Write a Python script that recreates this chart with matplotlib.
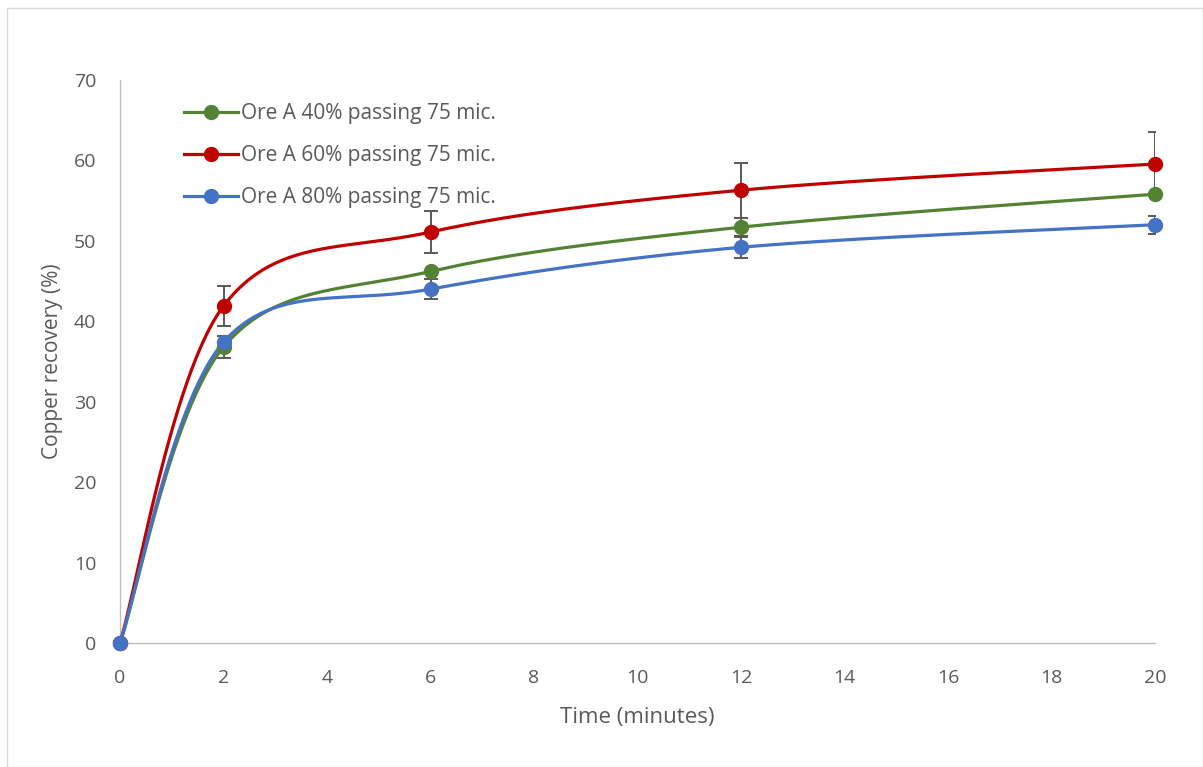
import numpy as np
import matplotlib
matplotlib.use("Agg")
import matplotlib.pyplot as plt
from matplotlib.patches import Rectangle

time = [0, 2, 6, 12, 20]
ore40 = [0, 36.8, 46.2, 51.7, 55.8]
ore60 = [0, 41.9, 51.1, 56.3, 59.55]
ore80 = [0, 37.4, 44.0, 49.2, 52.0]
err40 = [0, 1.4, 0.0, 1.1, 0.0]
err60 = [0, 2.5, 2.6, 3.4, 4.0]
err80 = [0, 0.0, 1.2, 1.3, 1.1]
labels = ["Ore A 40% passing 75 mic.", "Ore A 60% passing 75 mic.", "Ore A 80% passing 75 mic."]
colors = ["#548235", "#C00000", "#4472C4"]
xticks = list(range(0, 21, 2))
yticks = list(range(0, 71, 10))

plt.rcParams['font.family'] = ['Open Sans', 'DejaVu Sans']

W, H = 1203, 767
fig = plt.figure(figsize=(W / 100, H / 100), dpi=100)
L, R, T, B = 120, 1155, 80, 643
ax = fig.add_axes([L / W, 1 - B / H, (R - L) / W, (B - T) / H])
ax.set_xlim(0, 20)
ax.set_ylim(0, 70)

sx = (R - L) / 20.0
sy = (B - T) / 70.0


def smooth(xs, ys, n=60):
    # Excel-like smoothed line: cubic Bezier with Catmull-Rom control points (screen space)
    P = np.column_stack([np.array(xs) * sx, np.array(ys) * sy])
    out = []
    for i in range(len(P) - 1):
        p0 = P[i - 1] if i > 0 else P[i]
        p1 = P[i]
        p2 = P[i + 1]
        p3 = P[i + 2] if i + 2 < len(P) else P[i + 1]
        c1 = p1 + (p2 - p0) / 6.0
        c2 = p2 - (p3 - p1) / 6.0
        t = np.linspace(0, 1, n)[:, None]
        seg = ((1 - t) ** 3) * p1 + 3 * ((1 - t) ** 2) * t * c1 + 3 * (1 - t) * t ** 2 * c2 + t ** 3 * p2
        out.append(seg if i == 0 else seg[1:])
    out = np.vstack(out)
    return out[:, 0] / sx, out[:, 1] / sy

series = [(ore40, err40), (ore60, err60), (ore80, err80)]
for (ys, es), c, lab in zip(series, colors, labels):
    ax.errorbar(time, ys, yerr=es, fmt='none', ecolor='#595959', elinewidth=1.4,
                capsize=5, capthick=1.4, zorder=2)
for (ys, es), c, lab in zip(series, colors, labels):
    xs_s, ys_s = smooth(time, ys)
    ax.plot(xs_s, ys_s, color=c, lw=2.3, zorder=3, solid_capstyle='round', clip_on=False)
    ax.plot(time, ys, 'o', color=c, ms=10, zorder=4, clip_on=False)
    ax.plot([], [], '-o', color=c, lw=2.3, ms=10, label=lab)

ax.set_xticks(xticks)
ax.set_yticks(yticks)
ax.tick_params(length=0, labelsize=14, colors='#595959')
ax.tick_params(axis='x', pad=19)
ax.tick_params(axis='y', pad=17)
for s in ['top', 'right']:
    ax.spines[s].set_visible(False)
for s in ['left', 'bottom']:
    ax.spines[s].set_color('#BFBFBF')
    ax.spines[s].set_linewidth(1)

ax.set_xlabel("Time (minutes)", fontsize=16, color='#595959', labelpad=14)
ax.set_ylabel("Copper recovery (%)", fontsize=15, color='#595959', labelpad=8)

leg = ax.legend(loc='upper left', bbox_to_anchor=(64 / (R - L), 1 - 23 / (B - T)), frameon=False,
                fontsize=15, labelcolor='#595959', handlelength=2.6, handletextpad=0.15,
                labelspacing=1.02, borderaxespad=0, borderpad=0)
for txt in leg.get_texts():
    txt.set_color('#595959')

fig.patches.append(Rectangle((7 / W, 0), 1 - 7 / W, 1 - 8 / H, transform=fig.transFigure,
                             fill=False, edgecolor='#D9D9D9', lw=1))
fig.savefig("out.png", dpi=100)
